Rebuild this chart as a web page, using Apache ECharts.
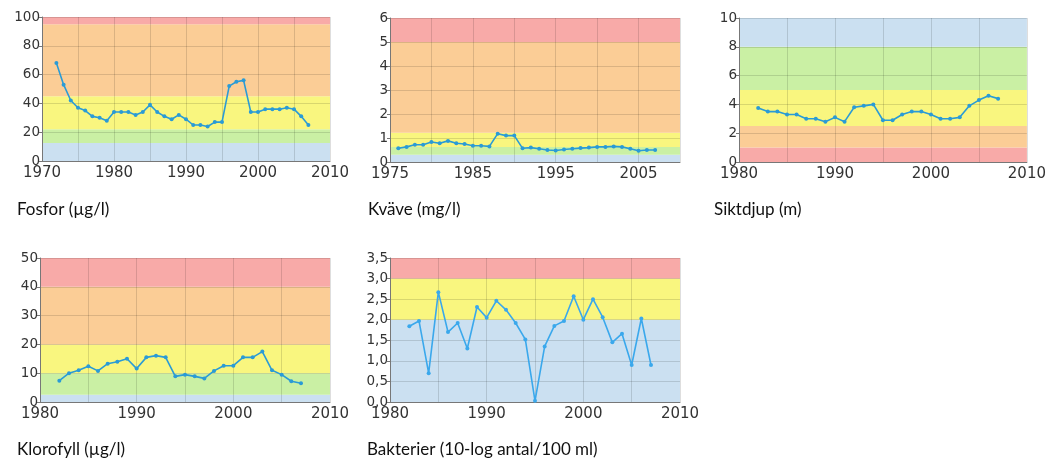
<!DOCTYPE html>
<html>
<head>
<meta charset="utf-8">
<script src="https://cdn.jsdelivr.net/npm/echarts@6/dist/echarts.min.js"></script>
<style>
html,body{margin:0;padding:0;background:#fff;}
#c{width:1049px;height:459px;}
</style>
</head>
<body>
<div id="c"></div>
<script>
// ---- Data ----
var fosforYears = [1972,1973,1974,1975,1976,1977,1978,1979,1980,1981,1982,1983,1984,1985,1986,1987,1988,1989,1990,1991,1992,1993,1994,1995,1996,1997,1998,1999,2000,2001,2002,2003,2004,2005,2006,2007];
var fosforValues = [68,53,42,37,35,31,30,28,34,34,34,32,34,39,34,31,29,32,29,25,25,24,27,27,52,55,56,34,34,36,36,36,37,36,31,25];

var kvaveYears = [1976,1977,1978,1979,1980,1981,1982,1983,1984,1985,1986,1987,1988,1989,1990,1991,1992,1993,1994,1995,1996,1997,1998,1999,2000,2001,2002,2003,2004,2005,2006,2007];
var kvaveValues = [0.57,0.63,0.72,0.72,0.83,0.78,0.88,0.78,0.75,0.68,0.68,0.65,1.18,1.1,1.1,0.57,0.6,0.55,0.5,0.48,0.52,0.55,0.58,0.6,0.63,0.63,0.65,0.63,0.55,0.47,0.5,0.5];

var siktYears = [1982,1983,1984,1985,1986,1987,1988,1989,1990,1991,1992,1993,1994,1995,1996,1997,1998,1999,2000,2001,2002,2003,2004,2005,2006,2007];
var siktValues = [3.75,3.5,3.5,3.3,3.3,3.0,3.0,2.8,3.1,2.8,3.8,3.9,4.0,2.9,2.9,3.3,3.5,3.5,3.3,3.0,3.0,3.1,3.9,4.3,4.6,4.4];

var klorYears = [1982,1983,1984,1985,1986,1987,1988,1989,1990,1991,1992,1993,1994,1995,1996,1997,1998,1999,2000,2001,2002,2003,2004,2005,2006,2007];
var klorValues = [7.4,10,11,12.4,10.8,13.3,14,15,11.6,15.5,16.1,15.5,8.9,9.5,8.9,8.2,10.8,12.6,12.6,15.5,15.5,17.5,11,9.5,7.2,6.5];

var bakYears = [1982,1983,1984,1985,1986,1987,1988,1989,1990,1991,1992,1993,1994,1995,1996,1997,1998,1999,2000,2001,2002,2003,2004,2005,2006,2007];
var bakValues = [1.84,1.97,0.7,2.67,1.7,1.92,1.3,2.31,2.05,2.46,2.24,1.92,1.52,0.03,1.35,1.85,1.97,2.57,2.0,2.5,2.06,1.45,1.66,0.9,2.03,0.9];

var titles = ['Fosfor (µg/l)','Kväve (mg/l)','Siktdjup (m)','Klorofyll (µg/l)','Bakterier (10-log antal/100 ml)'];

// class band limits (from bottom) and colours
var fosforBands = [0,12.5,22,45,95,100];
var fosforBandColors = ['blue','green','yellow','orange','red'];
var kvaveBands = [0,0.3,0.625,1.22,5,6];
var kvaveBandColors = ['blue','green','yellow','orange','red'];
var siktBands = [0,1,2.5,5,8,10];
var siktBandColors = ['red','orange','yellow','green','blue'];
var klorBands = [0,2.5,10,20,40,50];
var klorBandColors = ['blue','green','yellow','orange','red'];
var bakBands = [0,2,3,3.5];
var bakBandColors = ['blue','yellow','red'];

// ---- Styling ----
var palette = {red:'#f8aaa8', orange:'#fbcd96', yellow:'#f9f67f', green:'#caf0a4', blue:'#cbe0f1'};

var panels = [
  {years:fosforYears, values:fosforValues, bands:fosforBands, colors:fosforBandColors, xmin:1970, xmax:2010, ymax:100, yint:20, left:42, top:17, width:288, lc:'#2a9bd6'},
  {years:kvaveYears, values:kvaveValues, bands:kvaveBands, colors:kvaveBandColors, xmin:1975, xmax:2010, ymax:6, yint:1, left:390, top:18, width:290, lc:'#2a9bd6'},
  {years:siktYears, values:siktValues, bands:siktBands, colors:siktBandColors, xmin:1980, xmax:2010, ymax:10, yint:2, left:739, top:18, width:290, lc:'#2a9bd6'},
  {years:klorYears, values:klorValues, bands:klorBands, colors:klorBandColors, xmin:1980, xmax:2010, ymax:50, yint:10, left:40, top:258, width:290, lc:'#2a9bd6'},
  {years:bakYears, values:bakValues, bands:bakBands, colors:bakBandColors, xmin:1980, xmax:2010, ymax:3.5, yint:0.5, left:390, top:258, width:290, lc:'#3aa8ec', comma:true}
];
var titlePos = [[17,201],[368,201],[714,201],[17,441],[367,441]];

var grids=[], xAxes=[], yAxes=[], series=[], titleComps=[];
var axisFont = '"DejaVu Sans", Verdana, sans-serif';
panels.forEach(function(p,i){
  grids.push({left:p.left, top:p.top, width:p.width, height:144, containLabel:false});
  xAxes.push({
    type:'value', gridIndex:i, min:p.xmin, max:p.xmax, interval:5, z:3,
    axisLine:{show:true, onZero:false, lineStyle:{color:'#777', width:1}},
    axisTick:{show:false},
    axisLabel:{color:'#333', fontFamily:axisFont, fontSize:15, margin:5,
      formatter:(function(mn){return function(v){return ((v-mn)%10===0)? String(v) : '';};})(p.xmin)},
    splitLine:{show:true, lineStyle:{color:'rgba(0,0,0,0.13)', width:1}}
  });
  yAxes.push({
    type:'value', gridIndex:i, min:0, max:p.ymax, interval:p.yint, z:3,
    axisLine:{show:true, lineStyle:{color:'#777', width:1}},
    axisTick:{show:true, length:3, lineStyle:{color:'#777'}},
    axisLabel:{color:'#333', fontFamily:axisFont, fontSize:13.5, margin:2,
      formatter:p.comma ? function(v){return v.toFixed(1).replace('.',',');} : function(v){return String(v);}},
    splitLine:{show:true, lineStyle:{color:'rgba(0,0,0,0.13)', width:1}}
  });
  var areas=[];
  for (var k=0;k<p.colors.length;k++){
    areas.push([{yAxis:p.bands[k], itemStyle:{color:palette[p.colors[k]]}},{yAxis:p.bands[k+1]}]);
  }
  series.push({
    type:'line', xAxisIndex:i, yAxisIndex:i, data:[], z:1, silent:true,
    markArea:{silent:true, data:areas, itemStyle:{opacity:1}}
  });
  series.push({
    type:'line', xAxisIndex:i, yAxisIndex:i, z:5,
    data:p.years.map(function(y,j){return [y,p.values[j]];}),
    lineStyle:{color:p.lc, width:1.6},
    itemStyle:{color:p.lc},
    symbol:'circle', symbolSize:4, showSymbol:true, animation:false
  });
  titleComps.push({text:titles[i], left:titlePos[i][0], top:titlePos[i][1], padding:0,
    textStyle:{fontFamily:'Lato', fontSize:17, fontWeight:'normal', color:'#111'}});
});

var chart = echarts.init(document.getElementById('c'), null, {renderer:'canvas'});
chart.setOption({
  animation:false,
  title:titleComps,
  grid:grids, xAxis:xAxes, yAxis:yAxes, series:series
});
</script>
</body>
</html>
